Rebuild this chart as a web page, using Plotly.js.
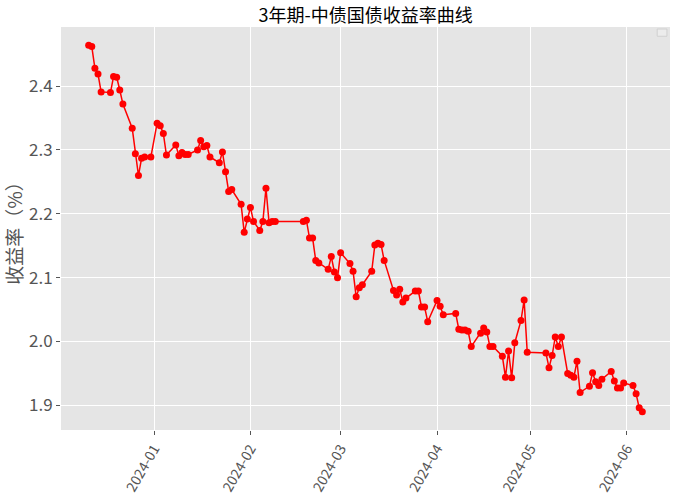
<!DOCTYPE html>
<html>
<head>
<meta charset="utf-8">
<script src="https://cdn.plot.ly/plotly-3.0.1.min.js"></script>
<style>
  body { margin: 0; background: #fff; }
  #chart { width: 677px; height: 500px; }
</style>
</head>
<body>
<div id="chart"></div>
<script>
// 3年期中债国债收益率 (%), 数值
var dates = [
  '2023-12-11','2023-12-12','2023-12-13','2023-12-14','2023-12-15',
  '2023-12-18','2023-12-19','2023-12-20','2023-12-21','2023-12-22',
  '2023-12-25','2023-12-26','2023-12-27','2023-12-28','2023-12-29','2023-12-31',
  '2024-01-02','2024-01-03','2024-01-04','2024-01-05',
  '2024-01-08','2024-01-09','2024-01-10','2024-01-11','2024-01-12',
  '2024-01-15','2024-01-16','2024-01-17','2024-01-18','2024-01-19',
  '2024-01-22','2024-01-23','2024-01-24','2024-01-25','2024-01-26',
  '2024-01-29','2024-01-30','2024-01-31','2024-02-01','2024-02-02',
  '2024-02-04','2024-02-05','2024-02-06','2024-02-07','2024-02-08','2024-02-09',
  '2024-02-18','2024-02-19','2024-02-20','2024-02-21','2024-02-22','2024-02-23',
  '2024-02-26','2024-02-27','2024-02-28','2024-02-29','2024-03-01',
  '2024-03-04','2024-03-05','2024-03-06','2024-03-07','2024-03-08',
  '2024-03-11','2024-03-12','2024-03-13','2024-03-14','2024-03-15',
  '2024-03-18','2024-03-19','2024-03-20','2024-03-21','2024-03-22',
  '2024-03-25','2024-03-26','2024-03-27','2024-03-28','2024-03-29',
  '2024-04-01','2024-04-02','2024-04-03','2024-04-07',
  '2024-04-08','2024-04-09','2024-04-10','2024-04-11','2024-04-12',
  '2024-04-15','2024-04-16','2024-04-17','2024-04-18','2024-04-19',
  '2024-04-22','2024-04-23','2024-04-24','2024-04-25','2024-04-26',
  '2024-04-28','2024-04-29','2024-04-30',
  '2024-05-06','2024-05-07','2024-05-08','2024-05-09','2024-05-10','2024-05-11',
  '2024-05-13','2024-05-14','2024-05-15','2024-05-16','2024-05-17',
  '2024-05-20','2024-05-21','2024-05-22','2024-05-23','2024-05-24',
  '2024-05-27','2024-05-28','2024-05-29','2024-05-30','2024-05-31',
  '2024-06-03','2024-06-04','2024-06-05','2024-06-06'
];
var yields = [
  2.464, 2.462, 2.428, 2.419, 2.391,
  2.390, 2.415, 2.414, 2.394, 2.372,
  2.334, 2.294, 2.260, 2.287, 2.289, 2.289,
  2.342, 2.338, 2.326, 2.292,
  2.308, 2.291, 2.296, 2.293, 2.293,
  2.300, 2.315, 2.305, 2.307, 2.289,
  2.280, 2.297, 2.266, 2.235, 2.238,
  2.215, 2.171, 2.192, 2.210, 2.188,
  2.174, 2.188, 2.240, 2.186, 2.188, 2.188,
  2.188, 2.190, 2.162, 2.162, 2.127, 2.123,
  2.113, 2.133, 2.109, 2.100, 2.139,
  2.122, 2.110, 2.070, 2.084, 2.089,
  2.110, 2.151, 2.154, 2.152, 2.127,
  2.080, 2.073, 2.082, 2.062, 2.068,
  2.079, 2.079, 2.054, 2.054, 2.031,
  2.064, 2.055, 2.042, 2.044,
  2.019, 2.018, 2.018, 2.016, 1.992,
  2.013, 2.021, 2.015, 1.992, 1.992,
  1.977, 1.944, 1.985, 1.943, 1.998,
  2.033, 2.065, 1.983,
  1.982, 1.959, 1.978, 2.007, 1.992, 2.007,
  1.950, 1.947, 1.944, 1.969, 1.920,
  1.930, 1.951, 1.937, 1.931, 1.941,
  1.953, 1.938, 1.927, 1.927, 1.935,
  1.931, 1.918, 1.896, 1.890
];
var yTicks = [1.9, 2.0, 2.1, 2.2, 2.3, 2.4];

var FONT = '"Noto Sans CJK SC", "DejaVu Sans", sans-serif';

// matplotlib 默认的 5% 边距
var t0 = new Date(dates[0] + 'T00:00:00Z').getTime();
var t1 = new Date(dates[dates.length - 1] + 'T00:00:00Z').getTime();
var padT = (t1 - t0) * 0.05;
function iso(t) { return new Date(t).toISOString().slice(0, 19).replace('T', ' '); }
var yMin = Math.min.apply(null, yields), yMax = Math.max.apply(null, yields);
var padY = (yMax - yMin) * 0.05;

var trace = {
  x: dates, y: yields,
  type: 'scatter',
  mode: 'lines+markers',
  line: { color: '#ff0000', width: 1.5 },
  marker: { color: '#ff0000', size: 7 },
  showlegend: false
};

var layout = {
  width: 677, height: 500,
  margin: { l: 61, r: 7, t: 27, b: 70 },
  paper_bgcolor: '#ffffff',
  plot_bgcolor: '#e5e5e5',
  font: { family: FONT, color: '#555555' },
  title: {
    text: '3年期-中债国债收益率曲线',
    font: { family: FONT, size: 18, color: '#000000' },
    x: 0.54, xanchor: 'center', y: 0.968, yanchor: 'middle'
  },
  xaxis: {
    type: 'date',
    range: [iso(t0 - padT), iso(t1 + padT)],
    tick0: '2024-01-01', dtick: 'M1', tickformat: '%Y-%m',
    tickangle: -60,
    tickfont: { family: FONT, size: 14, color: '#555555' },
    ticks: 'outside', ticklen: 4, tickcolor: '#555555',
    showgrid: true, gridcolor: '#ffffff', gridwidth: 1,
    showline: false, zeroline: false
  },
  yaxis: {
    range: [yMin - padY, yMax + padY],
    tickvals: yTicks,
    tickformat: '.1f',
    tickfont: { family: FONT, size: 17, color: '#555555' },
    ticks: 'outside', ticklen: 4, tickcolor: '#555555',
    showgrid: true, gridcolor: '#ffffff', gridwidth: 1,
    showline: false, zeroline: false,
    title: { text: '收益率（%）', font: { family: FONT, size: 19, color: '#555555' }, standoff: 6 }
  },
  shapes: [{
    // 空图例框
    type: 'rect', xref: 'paper', yref: 'paper',
    x0: 0.979, x1: 0.995, y0: 0.977, y1: 0.995,
    line: { color: '#d0d0d0', width: 1 }, fillcolor: '#ececec'
  }]
};

Plotly.newPlot('chart', [trace], layout, { displayModeBar: false });
</script>
</body>
</html>
